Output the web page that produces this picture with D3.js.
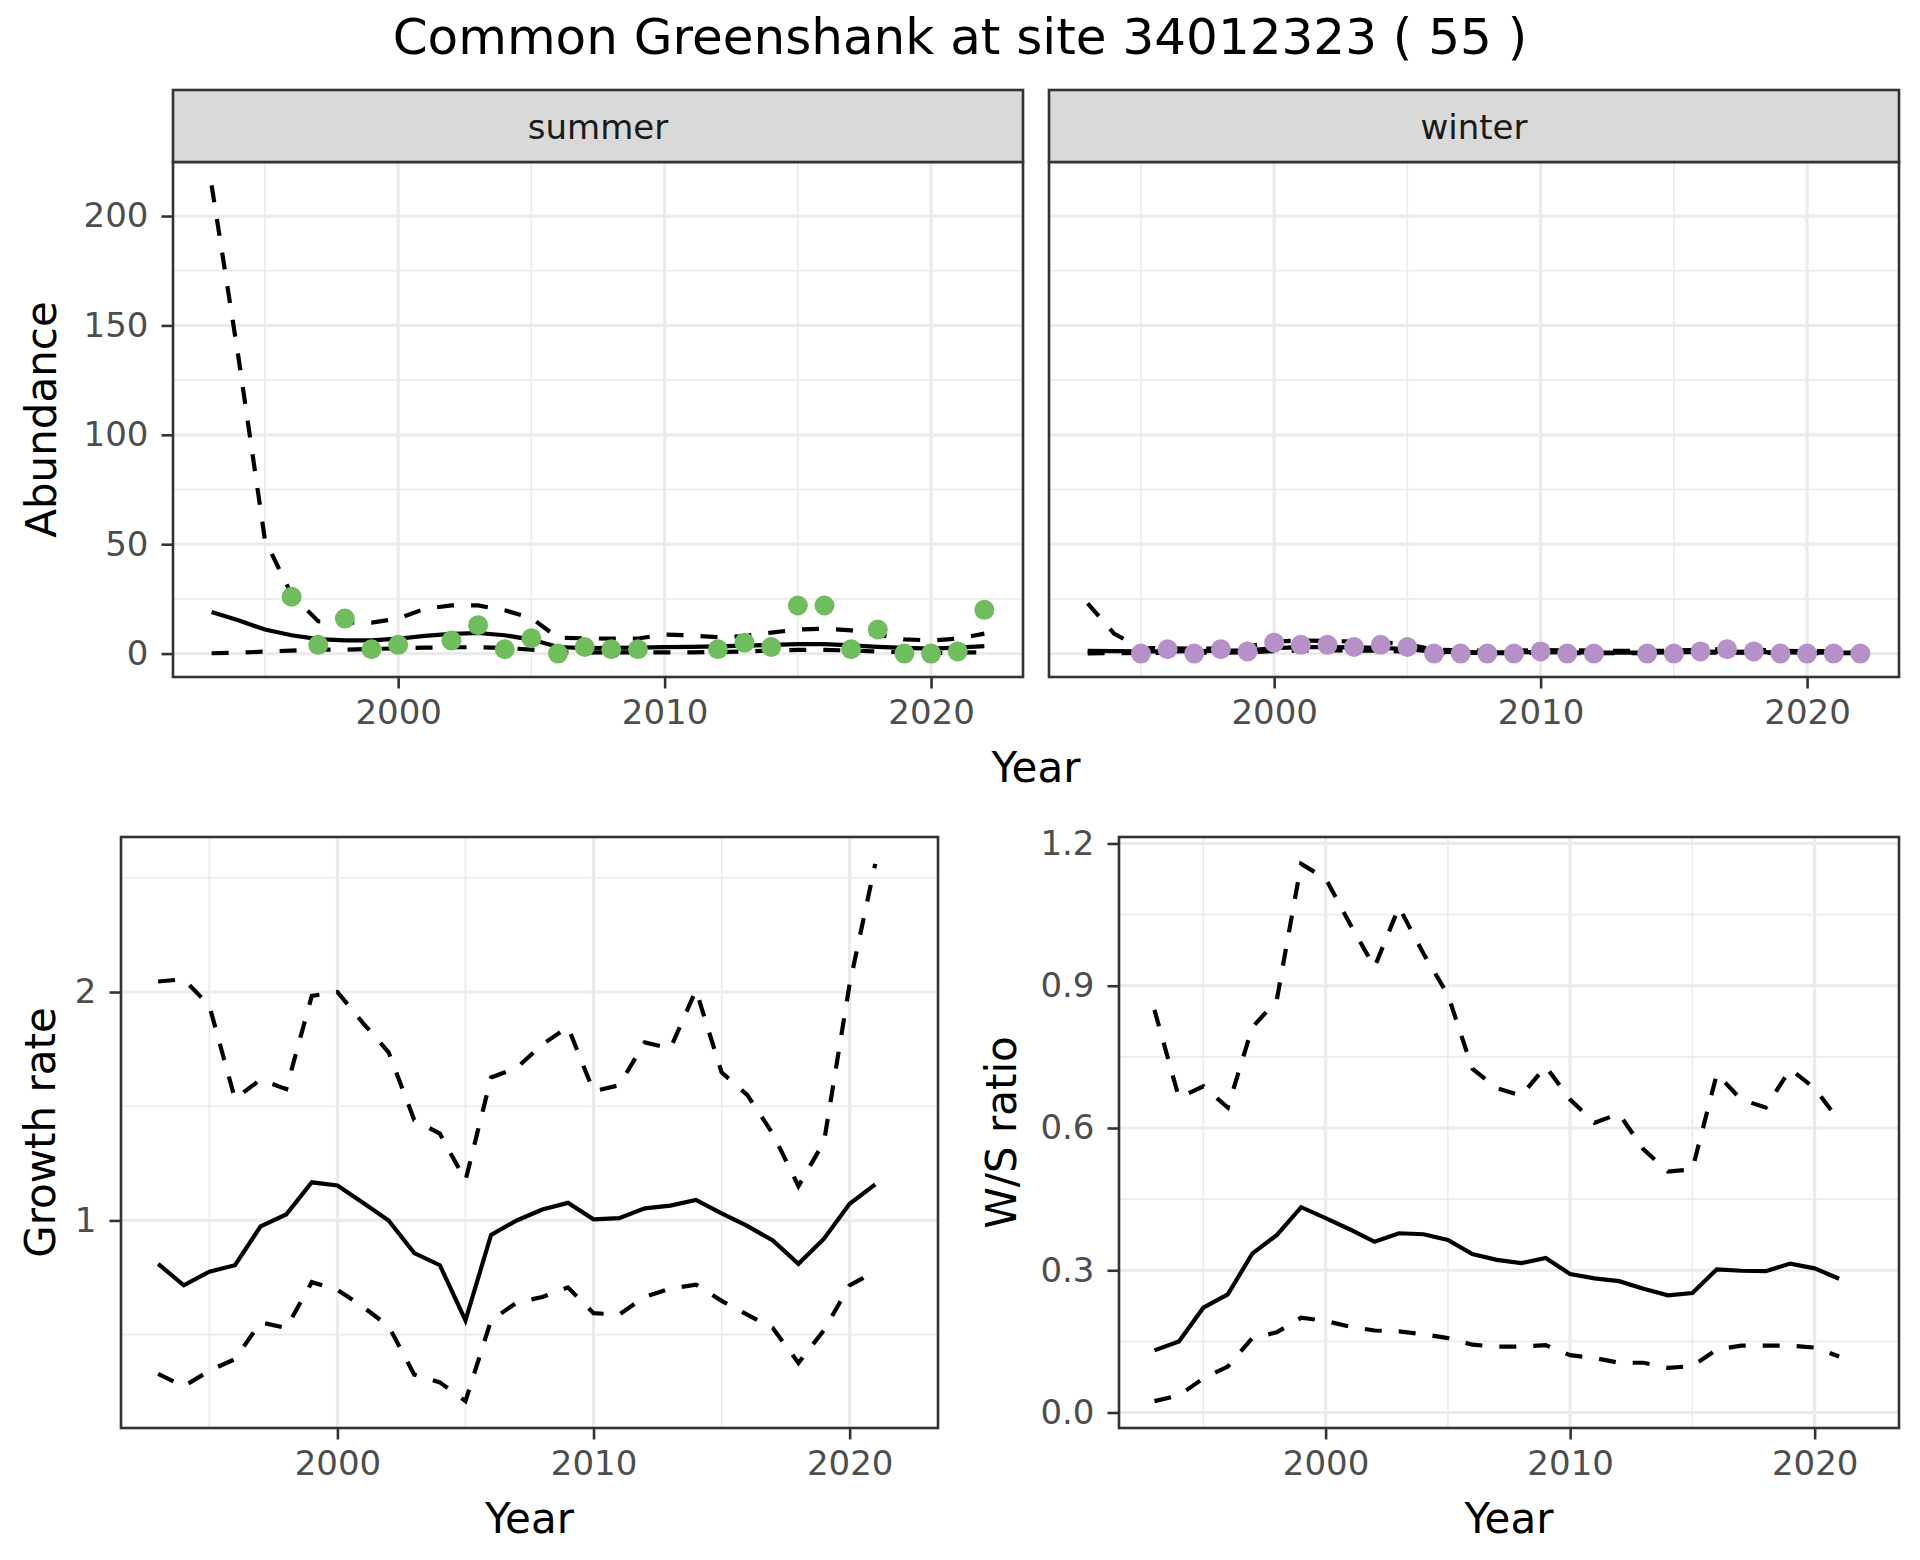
<!DOCTYPE html>
<html>
<head>
<meta charset="UTF-8">
<title>Common Greenshank at site 34012323</title>
<script src="https://d3js.org/d3.v7.min.js"></script>
<style>
  body { margin: 0; background: #fff; }
  svg { font-family: "DejaVu Sans", sans-serif; }
</style>
</head>
<body>
<div id="chart"></div>
<script>
// ---- data ----
const trendYears = [1993, 1994, 1995, 1996, 1997, 1998, 1999, 2000, 2001, 2002, 2003, 2004, 2005, 2006, 2007,
    2008, 2009, 2010, 2011, 2012, 2013, 2014, 2015, 2016, 2017, 2018, 2019, 2020, 2021, 2022];

const summerFit = [19, 15.2, 11, 8.4, 6.6, 6.0, 6.0, 6.8, 8.1, 9.0, 9.4, 8.4, 6.4, 3.0, 2.5,
    2.6, 2.7, 3.0, 3.1, 3.3, 3.6, 4.0, 4.3, 4.3, 3.8, 3.1, 2.6, 2.3, 2.7, 3.4];
const summerUpper = [214, 136, 52, 27, 14.8, 14.2, 14.2, 16, 20.5, 22, 22, 19.8, 16.3, 7.2, 7.0,
    6.8, 6.9, 8.7, 8.3, 7.5, 8, 9.6, 11, 11.4, 10.6, 8.7, 6.5, 6, 6.8, 9.1];
const summerLower = [0.15, 0.4, 0.9, 1.4, 1.8, 1.8, 2.1, 2.4, 2.7, 2.9, 2.9, 2.6, 1.8, 0.6, 0.4,
    0.6, 0.6, 0.6, 0.6, 0.7, 1.0, 1.4, 1.7, 1.7, 1.4, 1.0, 0.6, 0.3, 0.4, 0.6];

const winterFit = [1.2, 1.1, 1.0, 1.0, 1.1, 1.2, 1.5, 2.5, 3.0, 3.0, 2.8, 2.6, 2.0, 0.9, 0.7,
    0.6, 0.6, 0.7, 0.6, 0.5, 0.4, 0.4, 0.5, 0.8, 0.9, 0.8, 0.5, 0.4, 0.4, 0.4];
const winterUpper = [23, 9, 2.6, 2.4, 2.2, 2.5, 3.2, 5.5, 6.0, 5.8, 5.5, 5.2, 4.2, 1.8, 1.5,
    1.3, 1.3, 1.6, 1.5, 1.4, 1.2, 1.2, 1.3, 1.8, 2.0, 1.8, 1.3, 1.1, 1.1, 1.2];
const winterLower = [0.1, 0.2, 0.3, 0.35, 0.4, 0.45, 0.6, 1.1, 1.4, 1.5, 1.4, 1.3, 0.9, 0.4, 0.3,
    0.25, 0.25, 0.3, 0.25, 0.2, 0.15, 0.15, 0.2, 0.35, 0.4, 0.35, 0.2, 0.15, 0.15, 0.15];

const summerYears = [1996, 1997, 1998, 1999, 2000, 2002, 2003, 2004, 2005, 2006, 2007, 2008,
    2009, 2012, 2013, 2014, 2015, 2016, 2017, 2018, 2019, 2020, 2021, 2022];
const summerCounts = [26, 4, 16, 2, 4, 6, 13, 2, 7, 0, 3, 2, 2, 2, 5, 3, 22, 22, 2, 11, 0, 0, 1, 20];

const winterYears = [1995, 1996, 1997, 1998, 1999, 2000, 2001, 2002, 2003, 2004, 2005, 2006, 2007,
    2008, 2009, 2010, 2011, 2012, 2014, 2015, 2016, 2017, 2018, 2019, 2020, 2021, 2022];
const winterCounts = [0, 2, 0, 2, 1, 5, 4, 4, 3, 4, 3, 0, 0, 0, 0, 1, 0, 0, 0, 0, 1, 2, 1, 0, 0, 0, 0];

const rateYears = [1993, 1994, 1995, 1996, 1997, 1998, 1999, 2000, 2001, 2002, 2003, 2004, 2005, 2006, 2007,
    2008, 2009, 2010, 2011, 2012, 2013, 2014, 2015, 2016, 2017, 2018, 2019, 2020, 2021];

const growthFit = [0.81, 0.716, 0.776, 0.804, 0.974, 1.026, 1.167, 1.153, 1.077, 1.0, 0.857, 0.804, 0.563, 0.937, 1.0,
    1.048, 1.077, 1.005, 1.01, 1.053, 1.065, 1.09, 1.031, 0.976, 0.912, 0.81, 0.92, 1.073, 1.158];
const growthUpper = [2.046, 2.056, 1.94, 1.532, 1.617, 1.575, 1.983, 2.0, 1.864, 1.736, 1.44, 1.38, 1.175, 1.626, 1.668,
    1.77, 1.847, 1.566, 1.592, 1.779, 1.753, 2.008, 1.648, 1.55, 1.38, 1.15, 1.345, 2.034, 2.561];
const growthLower = [0.328, 0.274, 0.342, 0.393, 0.554, 0.529, 0.73, 0.696, 0.622, 0.537, 0.325, 0.291, 0.209, 0.563, 0.64,
    0.665, 0.707, 0.594, 0.588, 0.665, 0.702, 0.719, 0.648, 0.588, 0.529, 0.376, 0.52, 0.716, 0.776];

const ratioFit = [0.131, 0.150, 0.221, 0.249, 0.335, 0.374, 0.433, 0.41, 0.386, 0.36, 0.378, 0.376, 0.364, 0.334, 0.322,
    0.315, 0.326, 0.292, 0.283, 0.277, 0.261, 0.247, 0.252, 0.302, 0.299, 0.298, 0.314, 0.304, 0.282];
const ratioUpper = [0.849, 0.664, 0.688, 0.643, 0.812, 0.869, 1.157, 1.126, 1.03, 0.939, 1.066, 0.968, 0.881, 0.725, 0.684,
    0.668, 0.73, 0.66, 0.611, 0.63, 0.555, 0.508, 0.513, 0.714, 0.66, 0.643, 0.724, 0.684, 0.615];
const ratioLower = [0.024, 0.036, 0.072, 0.097, 0.157, 0.169, 0.2, 0.193, 0.181, 0.173, 0.171, 0.165, 0.157, 0.143, 0.139,
    0.139, 0.142, 0.121, 0.115, 0.105, 0.105, 0.094, 0.098, 0.133, 0.141, 0.141, 0.141, 0.137, 0.118];

const yearTicks = [2000, 2010, 2020];
const yearMinor = [1995, 2005, 2015];
const abundanceTicks = [0, 50, 100, 150, 200];
const abundanceMinor = [25, 75, 125, 175];
const growthTicks = [1, 2];
const growthMinor = [0.5, 1.5, 2.5];
const ratioTicks = [0, 0.3, 0.6, 0.9, 1.2];
const ratioMinor = [0.15, 0.45, 0.75, 1.05];

const titleText = 'Common Greenshank at site 34012323 ( 55 )';
const greenColour = '#6fbd5c';
const purpleColour = '#b591c8';

// ---- drawing ----
const width = 1920;
const height = 1560;
const svg = d3.select('#chart').append('svg')
    .attr('width', width)
    .attr('height', height);

svg.append('rect').attr('width', width).attr('height', height).attr('fill', '#fff');

function expand(values) {
    const ext = d3.extent(values);
    const pad = (ext[1] - ext[0]) * 0.05;
    return [ext[0] - pad, ext[1] + pad];
}

function pairs(xs, ys) {
    return xs.map((x, i) => [x, ys[i]]);
}

function drawPanel(p) {
    const g = svg.append('g');
    const [x0, x1] = p.x.range();
    const [y1, y0] = p.y.range();
    g.append('rect')
        .attr('x', x0).attr('y', y0).attr('width', x1 - x0).attr('height', y1 - y0)
        .attr('fill', '#fff');

    const inY = v => v >= p.y.domain()[0] && v <= p.y.domain()[1];
    // minor grid
    g.selectAll('.hmin').data(p.yMinor.filter(inY)).join('line')
        .attr('x1', x0).attr('x2', x1)
        .attr('y1', d => p.y(d)).attr('y2', d => p.y(d))
        .attr('stroke', '#ebebeb').attr('stroke-width', 1.6);
    g.selectAll('.vmin').data(p.xMinor).join('line')
        .attr('x1', d => p.x(d)).attr('x2', d => p.x(d))
        .attr('y1', y0).attr('y2', y1)
        .attr('stroke', '#ebebeb').attr('stroke-width', 1.6);
    // major grid
    g.selectAll('.hmaj').data(p.yTicks.filter(inY)).join('line')
        .attr('x1', x0).attr('x2', x1)
        .attr('y1', d => p.y(d)).attr('y2', d => p.y(d))
        .attr('stroke', '#ebebeb').attr('stroke-width', 3.2);
    g.selectAll('.vmaj').data(p.xTicks).join('line')
        .attr('x1', d => p.x(d)).attr('x2', d => p.x(d))
        .attr('y1', y0).attr('y2', y1)
        .attr('stroke', '#ebebeb').attr('stroke-width', 3.2);

    const line = d3.line()
        .x(d => p.x(d[0]))
        .y(d => p.y(d[1]));

    p.lines.forEach(l => {
        g.append('path')
            .datum(l.data)
            .attr('fill', 'none')
            .attr('stroke', '#000')
            .attr('stroke-width', 4.2)
            .attr('stroke-dasharray', l.dashed ? '17,17' : null)
            .attr('d', line);
    });

    if (p.points) {
        g.selectAll('.pt').data(p.points).join('circle')
            .attr('cx', d => p.x(d[0]))
            .attr('cy', d => p.y(d[1]))
            .attr('r', 10)
            .attr('fill', p.pointColour);
    }

    g.append('rect')
        .attr('x', x0).attr('y', y0).attr('width', x1 - x0).attr('height', y1 - y0)
        .attr('fill', 'none').attr('stroke', '#333333').attr('stroke-width', 2.6);

    // axes
    const xAxis = d3.axisBottom(p.x).tickValues(p.xTicks).tickSize(11.5).tickPadding(11)
        .tickFormat(d3.format('d'));
    styleAxis(g.append('g').attr('transform', 'translate(0,' + y1 + ')').call(xAxis));

    if (p.yFormat) {
        const yAxis = d3.axisLeft(p.y).tickValues(p.yTicks).tickSize(11.5).tickPadding(13)
            .tickFormat(p.yFormat);
        styleAxis(g.append('g').attr('transform', 'translate(' + x0 + ',0)').call(yAxis));
    }
    return g;
}

function styleAxis(a) {
    a.attr('font-family', null).attr('font-size', 34);
    a.select('.domain').remove();
    a.selectAll('.tick line').attr('stroke', '#333333').attr('stroke-width', 2.6);
    a.selectAll('.tick text').attr('fill', '#4d4d4d');
}

function axisTitle(text, x, y, rotate) {
    svg.append('text')
        .attr('transform', 'translate(' + x + ',' + y + ')' + (rotate ? ' rotate(-90)' : ''))
        .attr('text-anchor', 'middle')
        .attr('font-size', 42)
        .attr('fill', '#000')
        .text(text);
}

// title
svg.append('text')
    .attr('x', 960)
    .attr('y', 54)
    .attr('text-anchor', 'middle')
    .attr('font-size', 50)
    .attr('fill', '#000')
    .text(titleText);

// ---- top: abundance facets ----
const abundanceDomain = expand([].concat(summerFit, summerUpper, summerLower, winterFit, winterUpper,
    winterLower, summerCounts, winterCounts));
const yAbundance = d3.scaleLinear().domain(abundanceDomain).range([677, 162]);
const topYearDomain = expand([d3.min(trendYears), d3.max(trendYears)]);

const facets = [
    { name: 'summer', left: 173, right: 1023, fit: summerFit, upper: summerUpper, lower: summerLower,
        years: summerYears, counts: summerCounts, colour: greenColour, yAxis: true },
    { name: 'winter', left: 1049, right: 1899, fit: winterFit, upper: winterUpper, lower: winterLower,
        years: winterYears, counts: winterCounts, colour: purpleColour, yAxis: false }
];

facets.forEach(f => {
    const x = d3.scaleLinear().domain(topYearDomain).range([f.left, f.right]);
    drawPanel({
        x: x, y: yAbundance,
        xTicks: yearTicks, xMinor: yearMinor,
        yTicks: abundanceTicks, yMinor: abundanceMinor,
        yFormat: f.yAxis ? d3.format('d') : null,
        lines: [
            { data: pairs(trendYears, f.fit), dashed: false },
            { data: pairs(trendYears, f.upper), dashed: true },
            { data: pairs(trendYears, f.lower), dashed: true }
        ],
        points: pairs(f.years, f.counts),
        pointColour: f.colour
    });
    // strip
    svg.append('rect')
        .attr('x', f.left).attr('y', 90).attr('width', f.right - f.left).attr('height', 72)
        .attr('fill', '#d9d9d9').attr('stroke', '#333333').attr('stroke-width', 2.6);
    svg.append('text')
        .attr('x', (f.left + f.right) / 2)
        .attr('y', 139)
        .attr('text-anchor', 'middle')
        .attr('font-size', 34)
        .attr('fill', '#1a1a1a')
        .text(f.name);
});

axisTitle('Year', (173 + 1899) / 2, 782, false);
axisTitle('Abundance', 56, (162 + 677) / 2, true);

// ---- bottom left: growth rate ----
const bottomTop = 837;
const bottomBottom = 1428;
const bottomYearDomain = expand([d3.min(rateYears), d3.max(trendYears)]);
const xGrowth = d3.scaleLinear().domain(bottomYearDomain).range([121, 938]);
const yGrowth = d3.scaleLinear().domain(expand([].concat(growthFit, growthUpper, growthLower)))
    .range([bottomBottom, bottomTop]);
drawPanel({
    x: xGrowth, y: yGrowth,
    xTicks: yearTicks, xMinor: yearMinor,
    yTicks: growthTicks, yMinor: growthMinor,
    yFormat: d3.format('d'),
    lines: [
        { data: pairs(rateYears, growthFit), dashed: false },
        { data: pairs(rateYears, growthUpper), dashed: true },
        { data: pairs(rateYears, growthLower), dashed: true }
    ]
});
axisTitle('Year', (121 + 938) / 2, bottomBottom + 105, false);
axisTitle('Growth rate', 55, (bottomTop + bottomBottom) / 2, true);

// ---- bottom right: W/S ratio ----
const xRatio = d3.scaleLinear().domain(bottomYearDomain).range([1119, 1899]);
const yRatio = d3.scaleLinear().domain(expand([].concat(ratioFit, ratioUpper, ratioLower)))
    .range([bottomBottom, bottomTop]);
drawPanel({
    x: xRatio, y: yRatio,
    xTicks: yearTicks, xMinor: yearMinor,
    yTicks: ratioTicks, yMinor: ratioMinor,
    yFormat: d3.format('.1f'),
    lines: [
        { data: pairs(rateYears, ratioFit), dashed: false },
        { data: pairs(rateYears, ratioUpper), dashed: true },
        { data: pairs(rateYears, ratioLower), dashed: true }
    ]
});
axisTitle('Year', (1119 + 1899) / 2, bottomBottom + 105, false);
axisTitle('W/S ratio', 1016, (bottomTop + bottomBottom) / 2, true);
</script>
</body>
</html>
